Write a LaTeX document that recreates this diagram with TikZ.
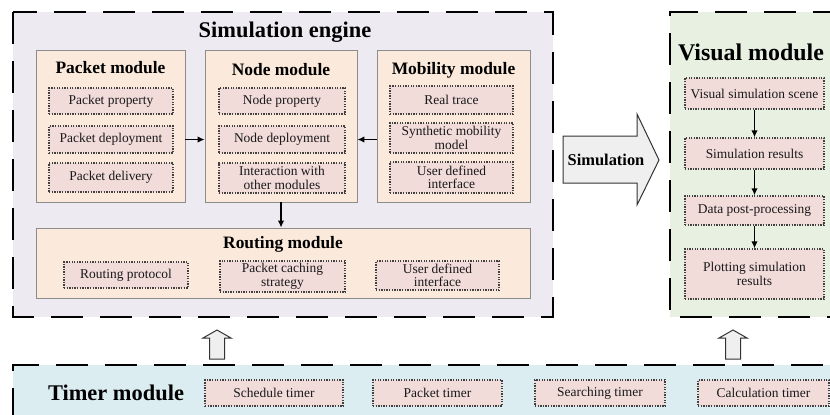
\documentclass[tikz,border=0pt]{standalone}
\usepackage{fontspec}
\setmainfont{Liberation Serif}
\usetikzlibrary{arrows.meta}
\definecolor{engfill}{HTML}{EDEAF1}
\definecolor{modfill}{HTML}{FBEADB}
\definecolor{itemfill}{HTML}{F1DCDA}
\definecolor{visfill}{HTML}{E8F0E2}
\definecolor{timfill}{HTML}{DCEDF2}
\definecolor{arrfill}{HTML}{EFEFEF}
\tikzset{
  bigdash/.style={line width=2.6bp, dash pattern=on 32bp off 17bp},
  modbox/.style={draw=black!45, line width=0.8bp, fill=modfill, inner sep=0pt},
  itembox/.style={draw=black!75, line width=1.3bp, dash pattern=on 1.3bp off 1.3bp,
    fill=itemfill, align=center, inner sep=0pt, text=black!90,
    font=\fontsize{13.5}{13.5}\selectfont},
  modtitle/.style={font=\bfseries\fontsize{17.5}{19}\selectfont},
  bigtitle/.style={font=\bfseries\fontsize{22.5}{24}\selectfont},
  arr/.style={-{Latex[length=7bp,width=6.5bp]}, line width=1.4bp},
  hollow/.style={draw=black!80, line width=1bp, fill=arrfill, line join=miter},
}
\newcommand\itm[5]{\node[itembox, minimum width=#3bp, minimum height=#4bp] (#1) at (#2) {#5};}
\newcommand\modbx[4]{\node[modbox, minimum width=#3bp, minimum height=#4bp] (#1) at (#2) {};}
\newcommand\hollowup[2]{%
  \draw[hollow] (#1-7.5,359) -- (#1-7.5,338) -- (#1-14,338) -- (#1,330) -- (#1+14,338)
    -- (#1+7.5,338) -- (#1+7.5,359) -- cycle;
  \coordinate (#2) at (#1,330);}
\begin{document}
\begin{tikzpicture}[x=1bp, y=-1bp]
\useasboundingbox (0,0) rectangle (830,414);
\clip (0,0) rectangle (830,414);

% ---------- Simulation engine ----------
\fill[engfill] (13,12) rectangle (553,317);
\draw[bigdash] (13,12) rectangle (553,317);
\node[bigtitle] (engt) at (285,32) {Simulation engine};

\modbx{pm}{110.5,126}{149}{152}
\modbx{nm}{281,126}{152}{152}
\modbx{mm}{453.5,126}{153}{152}
\node[modtitle] (pmt) at (110.5,68) {Packet module};
\node[modtitle] (nmt) at (281,70) {Node module};
\node[modtitle] (mmt) at (453.5,70) {Mobility module};

\itm{pp}{111,101}{124}{26}{Packet property}
\itm{pd}{111,139.5}{124}{27}{Packet deployment}
\itm{pv}{111,177.5}{124}{29}{Packet delivery}

\itm{np}{282,101}{126}{26}{Node property}
\itm{nd}{282,139.5}{126}{27}{Node deployment}
\itm{ni}{282,178}{126}{30}{Interaction with\\other modules}

\itm{rt}{451.5,100}{123}{28}{Real trace}
\itm{sm}{451.5,138}{123}{30}{Synthetic mobility\\model}
\itm{ud}{451.5,177.5}{123}{31}{User defined\\interface}

\draw[arr] (pm.east |- nd.center) -- (nm.west |- nd.center);
\draw[arr] (mm.west |- nd.center) -- (nm.east |- nd.center);

\modbx{rm}{283,263}{494}{70}
\node[modtitle] (rmt) at (283,244) {Routing module};
\draw[arr] (nm.south) -- (nm.south |- rm.north);
\itm{rp}{126,275}{124}{26}{Routing protocol}
\itm{pc}{282.5,276.5}{125}{31}{Packet caching\\strategy}
\itm{ui}{437.5,275.5}{123}{29}{User defined\\interface}

% ---------- Simulation arrow ----------
\draw[hollow] (563,136) -- (637,136) -- (637,114) -- (659,160) -- (637,205)
  -- (637,183) -- (563,183) -- cycle;
\node[font=\bfseries\fontsize{16.5}{18}\selectfont] (sim) at (606,160) {Simulation};

% ---------- Visual module ----------
\fill[visfill] (670,12) rectangle (845,317);
\draw[bigdash] (845,12) -- (670,12) -- (670,317) -- (845,317);
\node[font=\bfseries\fontsize{24}{26}\selectfont] (vist) at (751,52) {Visual module};
\itm{vs}{754.5,93.5}{139}{31}{Visual simulation scene}
\itm{sr}{754.5,153.5}{139}{31}{Simulation results}
\itm{dp}{754.5,210.5}{139}{29}{Data post-processing}
\itm{ps}{754.5,274}{139}{50}{Plotting simulation\\results}
\draw[arr] (vs.south) -- (sr.north);
\draw[arr] (sr.south) -- (dp.north);
\draw[arr] (dp.south) -- (ps.north);

% ---------- Timer module ----------
\fill[timfill] (13,365) rectangle (845,420);
\draw[bigdash] (13,420) -- (13,365) -- (845,365);
\node[bigtitle] (timt) at (116,393) {Timer module};
\itm{st}{274,393}{138}{26}{Schedule timer}
\itm{pt}{437.5,393}{129}{26}{Packet timer}
\itm{se}{600,393}{130}{26}{Searching timer}
\itm{ct}{763.5,393}{131}{26}{Calculation timer}

\hollowup{217}{upa}
\hollowup{733}{upb}
\end{tikzpicture}
\end{document}
